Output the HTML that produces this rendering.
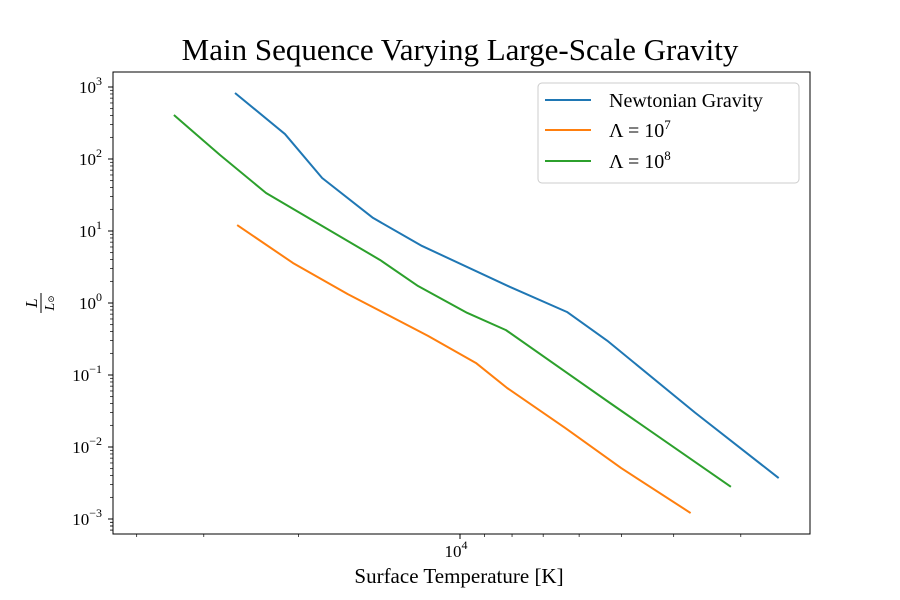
<!DOCTYPE html>
<html><head><meta charset="utf-8"><style>
body{margin:0;background:#fff}
svg text{font-family:"Liberation Serif","DejaVu Serif",serif}
.wrap{position:relative;width:900px;height:600px}
.ttl{position:absolute;left:0;width:920px;text-align:center;font-family:"Liberation Serif","DejaVu Serif",serif;color:#000;white-space:nowrap;line-height:1}
</style></head><body>
<div class="wrap">
<div class="ttl" style="top:34px;font-size:31px;font-family:'Liberation Serif',serif">Main Sequence Varying Large-Scale Gravity</div>
<div class="ttl" style="top:566px;font-size:21px;left:0;width:918px;font-family:'Liberation Serif',serif">Surface Temperature [K]</div>
<svg width="900" height="600" style="position:absolute;left:0;top:0" xmlns="http://www.w3.org/2000/svg">
<g id="ticks"></g>
<g id="series"></g>
<rect x="113" y="72" width="697" height="462" fill="none" stroke="#000" stroke-width="1"/>
<g transform="translate(40,303) rotate(-90)">
<text x="0" y="-3" font-size="17" text-anchor="middle" font-style="italic">L</text>
<line x1="-10" x2="10" y1="1" y2="1" stroke="#000" stroke-width="1"/>
<text x="0" y="14" font-size="14" text-anchor="middle" font-style="italic">L<tspan font-size="9" font-style="normal">⊙</tspan></text>
</g>
<g>
<rect x="538" y="83" width="261" height="100" rx="4" fill="#fff" stroke="#ccc"/>
<g><line x1="545" x2="591" y1="100" y2="100" stroke="#1f77b4" stroke-width="2"/><text x="609" y="107" font-size="20">Newtonian Gravity</text></g>
<g><line x1="545" x2="591" y1="130" y2="130" stroke="#ff7f0e" stroke-width="2"/><text x="609" y="137" font-size="20">Λ = 10<tspan font-size="13" dy="-8">7</tspan></text></g>
<g><line x1="545" x2="591" y1="161" y2="161" stroke="#2ca02c" stroke-width="2"/><text x="609" y="168" font-size="20">Λ = 10<tspan font-size="13" dy="-8">8</tspan></text></g>
</g>
</svg>
</div>
<script>
const newtonT=[26240,21180,18060,14520,11770,8070,6320,5320,3650,2550];
const newtonL=[826,222,54.5,15.2,6.2,1.67,0.75,0.30,0.030,0.0037];
const l7T=[26000,20470,16180,11470,9340,8170,6370,5010,3720];
const l7L=[12.1,3.6,1.33,0.35,0.147,0.066,0.0184,0.0051,0.00121];
const l8T=[34100,28000,22970,14090,11970,9700,8210,5260,3130];
const l8L=[408,114,33.7,3.96,1.72,0.73,0.42,0.041,0.0028];
const yTickExps=[3,2,1,0,-1,-2,-3];
const xMinorTicks=[40000,30000,20000,9000,8000,7000,6000,5000,4000,3000];
const NS="http://www.w3.org/2000/svg";
function xs(T){return 460+(4-Math.log10(T))*537;}
function ys(L){return 303-Math.log10(L)*72;}
const tg=document.getElementById('ticks');
function mk(tag,attrs,parent){const e=document.createElementNS(NS,tag);for(const k in attrs)e.setAttribute(k,attrs[k]);parent.appendChild(e);return e;}
yTickExps.forEach(e=>{
  const y=ys(Math.pow(10,e));
  const l=mk('line',{x1:113,x2:108,y1:y,y2:y,stroke:'#000'},tg);
  
  
  const t=mk('text',{x:102,y:y+6,'font-size':17,'text-anchor':'end'},tg);
  
  
  t.innerHTML='10<tspan font-size="12" dy="-8">'+String(e).replace('-','\u2212')+'</tspan>';
  for(let m=2;m<10;m++){
    const ym=ys(m*Math.pow(10,e-1));
    if(ym<72||ym>534)continue;
    mk('line',{x1:113,x2:110,y1:ym,y2:ym,stroke:'#000','stroke-width':0.7},tg);
  }
});
[2,3,4,5,6,7,8,9].forEach(m=>{const ym=ys(m*1e-4);if(ym<=534)mk('line',{x1:113,x2:110,y1:ym,y2:ym,stroke:'#000','stroke-width':0.7},tg);});
{const x=xs(10000);
 const l=mk('line',{x1:x,x2:x,y1:534,y2:539,stroke:'#000'},tg);
 
 
 const t=mk('text',{x:x-4,y:557,'font-size':17,'text-anchor':'middle'},tg);
 
 
 t.innerHTML='10<tspan font-size="12" dy="-8">4</tspan>';}
xMinorTicks.forEach(T=>{const x=xs(T);mk('line',{x1:x,x2:x,y1:534,y2:537,stroke:'#000','stroke-width':0.7},tg);});
const sg=document.getElementById('series');
function line(T,L,c,name){
  const p=mk('polyline',{points:T.map((t,i)=>xs(t)+','+ys(L[i])).join(' '),fill:'none',stroke:c,'stroke-width':2,'stroke-linejoin':'round'},sg);
  
  
}
line(newtonT,newtonL,'#1f77b4','newtonian-line');
line(l7T,l7L,'#ff7f0e','lambda-1e7-line');
line(l8T,l8L,'#2ca02c','lambda-1e8-line');
</script>
</body></html>
